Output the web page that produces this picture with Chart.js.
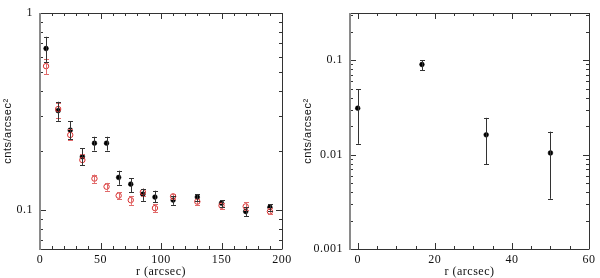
<!DOCTYPE html>
<html>
<head>
<meta charset="utf-8">
<script src="https://cdn.jsdelivr.net/npm/chart.js@4/dist/chart.umd.min.js"></script>
<style>
  html, body { margin: 0; padding: 0; background: #fff; }
  #wrap { position: relative; width: 600px; height: 278px; }
  canvas { position: absolute; top: 0; }
  #c1 { left: 0; }
  #c2 { left: 300px; }
</style>
</head>
<body>
<div id="wrap">
  <canvas id="c1" width="300" height="278"></canvas>
  <canvas id="c2" width="300" height="278"></canvas>
</div>
<script>
// ---- Left panel data ----
const leftR = [5, 15, 25, 35, 45, 55, 65, 75, 85, 95, 110, 130, 150, 170, 190];
const blackVal = [0.66, 0.319, 0.254, 0.186, 0.218, 0.218, 0.146, 0.135, 0.12, 0.116, 0.112, 0.116, 0.108, 0.098, 0.103];
const blackLo  = [0.565, 0.283, 0.228, 0.169, 0.2, 0.2, 0.134, 0.123, 0.111, 0.109, 0.106, 0.111, 0.103, 0.093, 0.099];
const blackHi  = [0.757, 0.354, 0.281, 0.206, 0.235, 0.235, 0.158, 0.145, 0.128, 0.125, 0.117, 0.12, 0.112, 0.103, 0.107];
const redVal = [0.537, 0.325, 0.24, 0.179, 0.144, 0.131, 0.118, 0.112, 0.123, 0.102, 0.117, 0.11, 0.105, 0.104, 0.098];
const redLo  = [0.487, 0.293, 0.226, 0.169, 0.137, 0.125, 0.113, 0.106, 0.117, 0.097, 0.113, 0.106, 0.101, 0.1, 0.095];
const redHi  = [0.584, 0.348, 0.256, 0.191, 0.151, 0.137, 0.123, 0.117, 0.128, 0.107, 0.12, 0.114, 0.108, 0.109, 0.102];

// ---- Right panel data ----
const rightR   = [0, 16.67, 33.33, 50];
const rightVal = [0.031, 0.090, 0.0162, 0.0104];
const rightLo  = [0.013, 0.078, 0.0079, 0.0034];
const rightHi  = [0.049, 0.1, 0.0245, 0.0175];

// ---- Tick labels ----
const leftXTicks  = [0, 50, 100, 150, 200];
const leftYTicks  = [0.1, 1];
const rightXTicks = [0, 20, 40, 60];
const rightYTicks = [0.001, 0.01, 0.1];

const xTitle = 'r (arcsec)';
const yTitle = 'cnts/arcsec²';

const FONT = { family: '"Liberation Serif", serif', size: 12, lineHeight: 1 };

function pts(xs, ys) { return xs.map((x, i) => ({ x: x, y: ys[i] })); }

// Slightly wider letter spacing, like the original plotting font
const spacing = {
  id: 'spacing',
  beforeDraw(chart) { chart.ctx.letterSpacing = '0.5px'; }
};

// Error bar plugin
const errorBars = {
  id: 'errorBars',
  afterDatasetsDraw(chart) {
    const ctx = chart.ctx;
    const xs = chart.scales.x, ys = chart.scales.y;
    chart.data.datasets.forEach((ds) => {
      if (!ds.errLo) return;
      ctx.save();
      ctx.strokeStyle = ds.errColor;
      ctx.lineWidth = 1;
      ds.data.forEach((p, i) => {
        const px = Math.round(xs.getPixelForValue(p.x)) + 0.5;
        const yl = ys.getPixelForValue(ds.errLo[i]);
        const yh = ys.getPixelForValue(ds.errHi[i]);
        ctx.beginPath();
        ctx.moveTo(px, yl); ctx.lineTo(px, yh);
        ctx.moveTo(px - 2.5, Math.round(yl) + 0.5); ctx.lineTo(px + 2.5, Math.round(yl) + 0.5);
        ctx.moveTo(px - 2.5, Math.round(yh) + 0.5); ctx.lineTo(px + 2.5, Math.round(yh) + 0.5);
        ctx.stroke();
      });
      ctx.restore();
    });
  }
};

// Frame + inward ticks plugin
const frameTicks = {
  id: 'frameTicks',
  afterDraw(chart) {
    const o = chart.options.plugins.frameTicks;
    const ctx = chart.ctx;
    const a = chart.chartArea;
    const xs = chart.scales.x, ys = chart.scales.y;
    ctx.save();
    ctx.lineWidth = 1;
    ctx.strokeStyle = '#333';
    const L = Math.round(a.left), R = Math.round(a.right), T = Math.round(a.top), B = Math.round(a.bottom);
    const xMinor = [];
    for (let v = o.xMin; v <= o.xMax + 1e-9; v += o.xMinorStep) xMinor.push(v);
    ctx.beginPath();
    xMinor.forEach(v => {
      const major = o.xMajor.some(m => Math.abs(m - v) < 1e-9);
      const len = major ? 6 : 3;
      const px = Math.round(xs.getPixelForValue(v)) + 0.5;
      if (px < L + 1 || px > R - 0.5) return;
      ctx.moveTo(px, B); ctx.lineTo(px, B - len);
      ctx.moveTo(px, T); ctx.lineTo(px, T + len);
    });
    for (let d = o.yDecMin; d <= o.yDecMax; d++) {
      for (let m = 1; m <= 9; m++) {
        const v = m * Math.pow(10, d);
        if (v < ys.min * 0.999 || v > ys.max * 1.001) continue;
        const py = Math.round(ys.getPixelForValue(v)) + 0.5;
        if (py < T + 1 || py > B - 0.5) continue;
        const len = m === 1 ? 6 : 3;
        ctx.moveTo(L, py); ctx.lineTo(L + len, py);
        ctx.moveTo(R, py); ctx.lineTo(R - len, py);
      }
    }
    ctx.stroke();
    ctx.beginPath();
    ctx.moveTo(L, T + 0.5); ctx.lineTo(R + 0.5, T + 0.5);
    ctx.moveTo(R + 0.5, T); ctx.lineTo(R + 0.5, B);
    ctx.moveTo(L, B + 0.5); ctx.lineTo(R + 0.5, B + 0.5);
    ctx.stroke();
    ctx.strokeStyle = '#8a8a8a';
    ctx.lineWidth = 2;
    ctx.beginPath();
    ctx.moveTo(L, T); ctx.lineTo(L, B + 1);
    ctx.stroke();
    ctx.restore();
  }
};

function makeChart(id, datasets, cfg) {
  return new Chart(document.getElementById(id), {
    type: 'scatter',
    data: { datasets: datasets },
    options: {
      responsive: false,
      animation: false,
      layout: { padding: { left: 0, top: 7, right: cfg.padRight, bottom: 0 } },
      plugins: {
        legend: { display: false },
        tooltip: { enabled: false },
        frameTicks: cfg.ticks
      },
      scales: {
        x: {
          type: 'linear',
          min: cfg.xMin, max: cfg.xMax,
          afterBuildTicks: (s) => { s.ticks = cfg.xTicks.map(v => ({ value: v })); },
          afterFit: (s) => { s.height = 29; },
          grid: { display: false, drawTicks: false },
          border: { display: false },
          ticks: { color: '#111', font: FONT, padding: 5, maxRotation: 0, autoSkip: false, callback: v => String(v) },
          title: { display: true, text: xTitle, color: '#111', font: FONT, padding: { top: 0, bottom: 0 } }
        },
        y: {
          type: 'logarithmic',
          min: cfg.yMin, max: cfg.yMax,
          afterBuildTicks: (s) => { s.ticks = cfg.yTicks.map(v => ({ value: v })); },
          afterFit: (s) => { s.width = cfg.yWidth; },
          grid: { display: false, drawTicks: false },
          border: { display: false },
          ticks: { color: '#111', font: FONT, padding: 7, autoSkip: false, callback: v => String(v) },
          title: { display: true, text: yTitle, color: '#111', font: { family: '"Liberation Sans", sans-serif', size: 11, lineHeight: 1 }, padding: { top: 2, bottom: 0 } }
        }
      }
    },
    plugins: [spacing, errorBars, frameTicks]
  });
}

makeChart('c1', [
  {
    data: pts(leftR, redVal), errLo: redLo, errHi: redHi, errColor: '#e06a6a',
    pointStyle: 'circle', pointRadius: 2.7, pointBorderWidth: 1,
    pointBorderColor: '#d93030', pointBackgroundColor: 'rgba(255,255,255,0)', showLine: false
  },
  {
    data: pts(leftR, blackVal), errLo: blackLo, errHi: blackHi, errColor: '#333',
    pointStyle: 'circle', pointRadius: 2.4, pointBorderWidth: 0.5,
    pointBorderColor: '#000', pointBackgroundColor: '#000', showLine: false
  }
], {
  padRight: 18, yWidth: 40,
  xMin: 0, xMax: 200, xTicks: leftXTicks,
  yMin: 0.0632, yMax: 1, yTicks: leftYTicks,
  ticks: { xMin: 0, xMax: 200, xMinorStep: 10, xMajor: leftXTicks, yDecMin: -2, yDecMax: 0 }
});

makeChart('c2', [
  {
    data: pts(rightR, rightVal), errLo: rightLo, errHi: rightHi, errColor: '#333',
    pointStyle: 'circle', pointRadius: 2.4, pointBorderWidth: 0.5,
    pointBorderColor: '#000', pointBackgroundColor: '#000', showLine: false
  }
], {
  padRight: 7, yWidth: 50,
  xMin: -2, xMax: 60, xTicks: rightXTicks,
  yMin: 0.001, yMax: 0.316, yTicks: rightYTicks,
  ticks: { xMin: 0, xMax: 60, xMinorStep: 5, xMajor: rightXTicks, yDecMin: -3, yDecMax: -1 }
});
</script>
</body>
</html>
